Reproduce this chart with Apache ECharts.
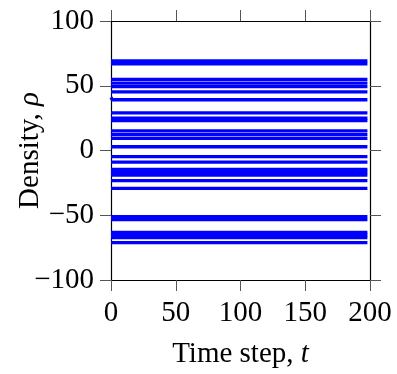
<!DOCTYPE html>
<html>
<head>
<meta charset="utf-8">
<script src="https://cdn.jsdelivr.net/npm/echarts@6/dist/echarts.min.js"></script>
<style>
  html, body { margin: 0; padding: 0; background: #fff; }
  #chart { width: 397px; height: 374px; }
</style>
</head>
<body>
<div id="chart"></div>
<script>
// time span of every trace
const timeSteps = [0, 198];
// constant density levels (one horizontal trace each)
const densityLevels = [
  69.2, 67.0,
  54.9, 52.1, 49.3,
  45.2,
  29.1,
  25.0, 23.0,
  15.1, 12.3, 9.4,
  2.9,
  -4.8,
  -9.0,
  -14.6, -16.8, -19.0,
  -23.2,
  -29.2,
  -51.1, -53.4,
  -63.3, -65.3, -67.3,
  -71.2
];
// one trace that starts a little higher at t = 0
const bumpTimes = [0, 1, 198];
const bumpValues = [41, 39.2, 39.2];

const xTicks = [0, 50, 100, 150, 200];
const yTicks = [-100, -50, 0, 50, 100];

const font = 'Liberation Serif';
const fs = 29;

const chart = echarts.init(document.getElementById('chart'));

const lineStyle = { color: '#0000ff', width: 3.3, cap: 'butt' };

const series = densityLevels.map(v => ({
  type: 'line',
  data: timeSteps.map(t => [t, v]),
  showSymbol: false,
  symbol: 'none',
  lineStyle: lineStyle,
  animation: false
}));
series.push({
  type: 'line',
  data: bumpTimes.map((t, i) => [t, bumpValues[i]]),
  showSymbol: false,
  symbol: 'none',
  lineStyle: lineStyle,
  animation: false
});

function axisCommon(showLabel, margin) {
  return {
    type: 'value',
    interval: 50,
    nameMoveOverlap: false,
    axisLine: { show: true, onZero: false, lineStyle: { color: '#000', width: 1.2 } },
    axisTick: { show: true, inside: false, length: 11, lineStyle: { color: '#555', width: 1 } },
    splitLine: { show: false },
    axisLabel: {
      show: showLabel,
      margin: margin,
      color: '#000',
      fontFamily: font,
      fontSize: fs,
      formatter: v => (v < 0 ? '\u2212' + Math.abs(v) : String(v))
    }
  };
}

chart.setOption({
  backgroundColor: '#fff',
  grid: { left: 111, right: 27, top: 21, bottom: 94, show: false, containLabel: false, outerBoundsMode: 'none' },
  xAxis: [
    Object.assign(axisCommon(true, 19), {
      position: 'bottom', min: xTicks[0], max: xTicks[xTicks.length - 1],
      name: '{n|Time step, }{i|t}', nameLocation: 'middle', nameGap: 60,
      nameTextStyle: { rich: {
        n: { fontFamily: font, fontSize: fs, color: '#000' },
        i: { fontFamily: font, fontSize: fs, fontStyle: 'italic', color: '#000' }
      } }
    }),
    Object.assign(axisCommon(false, 8), {
      position: 'top', min: xTicks[0], max: xTicks[xTicks.length - 1]
    })
  ],
  yAxis: [
    Object.assign(axisCommon(true, 17), {
      position: 'left', min: yTicks[0], max: yTicks[yTicks.length - 1],
      name: '{n|Density, }{i|\u03c1}', nameLocation: 'middle', nameGap: 66, nameRotate: 90,
      nameTextStyle: { rich: {
        n: { fontFamily: font, fontSize: fs, color: '#000' },
        i: { fontFamily: font, fontSize: fs, fontStyle: 'italic', color: '#000' }
      } }
    }),
    Object.assign(axisCommon(false, 8), {
      position: 'right', min: yTicks[0], max: yTicks[yTicks.length - 1]
    })
  ],
  series: series
});
</script>
</body>
</html>
